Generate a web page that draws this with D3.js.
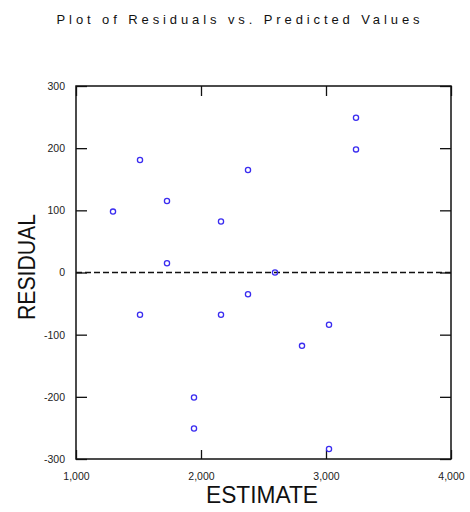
<!DOCTYPE html>
<html><head><meta charset="utf-8">
<script src="https://cdn.jsdelivr.net/npm/d3@7"></script>
<style>body{margin:0;background:#fff}svg{display:block}</style>
</head><body>
<svg id="c" width="470" height="512"></svg>
<script>
const estimate = [1296,1512,1728,1728,2160,2376,3240,3240,2592,1512,2160,1944,1944,2376,3024,2808,3024];
const residual = [98,181,115,15,82,165,249,198,0,-68,-68,-201,-251,-35,-84,-118,-284];
const xTicks = [1000,2000,3000,4000];
const yTicks = [-300,-200,-100,0,100,200,300];
const title = "Plot of Residuals vs. Predicted Values";
const xLabel = "ESTIMATE", yLabel = "RESIDUAL";

const svg = d3.select("#c");
const L=76,R=451,T=86,B=459;
const x = d3.scaleLinear().domain([1000,4000]).range([L,R]);
const y = d3.scaleLinear().domain([-300,300]).range([B,T]);
const fmtX = d3.format(",");
const fmtY = d => String(d);
const FONT = "Arial, Liberation Sans, sans-serif";

svg.append("text").attr("x",240).attr("y",24).attr("text-anchor","middle")
  .attr("font-family",FONT).attr("font-size",13)
  .attr("letter-spacing",3.9).attr("fill","#111").text(title);

svg.append("g").attr("transform",`translate(0,${B})`)
  .call(d3.axisBottom(x).tickValues(xTicks).tickFormat(fmtX).tickSizeInner(-9).tickSizeOuter(0).tickPadding(14))
  .call(g=>{g.select(".domain").remove();});
svg.append("g").attr("transform",`translate(${L},0)`)
  .call(d3.axisLeft(y).tickValues(yTicks).tickFormat(fmtY).tickSizeInner(-11).tickSizeOuter(0).tickPadding(11))
  .call(g=>{g.select(".domain").remove();});
svg.append("g").attr("transform",`translate(0,${T})`)
  .call(d3.axisTop(x).tickValues(xTicks).tickFormat("").tickSizeInner(-10).tickSizeOuter(0))
  .call(g=>{g.select(".domain").remove();});
svg.append("g").attr("transform",`translate(${R},0)`)
  .call(d3.axisRight(y).tickValues(yTicks).tickFormat("").tickSizeInner(-11).tickSizeOuter(0))
  .call(g=>{g.select(".domain").remove();});
svg.selectAll(".tick line").attr("stroke","#111").attr("stroke-width",1.3);
svg.selectAll(".tick text").attr("font-family",FONT)
  .attr("font-size",10.5).attr("fill","#222");

svg.append("rect").attr("x",L).attr("y",T).attr("width",R-L).attr("height",B-T)
  .attr("fill","none").attr("stroke","#111").attr("stroke-width",1.5);

svg.append("line").attr("x1",L).attr("x2",R).attr("y1",y(0)).attr("y2",y(0))
  .attr("stroke","#111").attr("stroke-width",1.3).attr("stroke-dasharray","6,3");

svg.append("g").selectAll("circle").data(estimate).join("circle")
  .attr("cx",d=>x(d)).attr("cy",(d,i)=>y(residual[i])).attr("r",2.6)
  .attr("fill","none").attr("stroke","#3a2cf0").attr("stroke-width",1.3);

svg.append("text").attr("x",262).attr("y",503).attr("text-anchor","middle")
  .attr("font-family",FONT).attr("font-size",23).attr("fill","#111")
  .attr("textLength",112).attr("lengthAdjust","spacingAndGlyphs").text(xLabel);
svg.append("text").attr("transform",`translate(35,267) rotate(-90)`).attr("text-anchor","middle")
  .attr("font-family",FONT).attr("font-size",24).attr("fill","#111")
  .attr("textLength",106).attr("lengthAdjust","spacingAndGlyphs").text(yLabel);
</script>
</body></html>
